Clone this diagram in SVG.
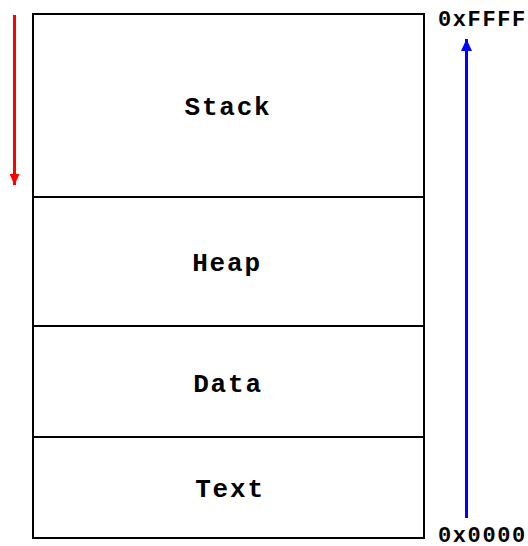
<svg xmlns="http://www.w3.org/2000/svg" width="528" height="546" viewBox="0 0 528 546">
  <style>
    .seg { fill: #fff; stroke: #000; stroke-width: 2; }
    .lbl { font-family: "Liberation Mono", "Courier New", monospace; font-weight: bold; font-size: 26px; letter-spacing: 1.8px; fill: #000; text-anchor: middle; dominant-baseline: central; }
    .addr { font-family: "Liberation Mono", "Courier New", monospace; font-weight: bold; font-size: 22px; letter-spacing: 1.6px; fill: #000; }
  </style>
  <defs>
    <marker id="headRed" viewBox="0 0 11 10" refX="11" refY="5" markerWidth="11" markerHeight="10" markerUnits="userSpaceOnUse" orient="auto">
      <path d="M0,0 L11,5 L0,10 Z" fill="#f00"/>
    </marker>
    <marker id="headBlue" viewBox="0 0 12 11" refX="12" refY="5.5" markerWidth="12" markerHeight="11" markerUnits="userSpaceOnUse" orient="auto">
      <path d="M0,0 L12,5.5 L0,11 Z" fill="#00f"/>
    </marker>
  </defs>

  <!-- memory segments, top to bottom -->
  <g id="stack">
    <rect class="seg" x="33" y="14" width="391" height="183"/>
    <text class="lbl" x="228" y="108">Stack</text>
  </g>
  <g id="heap">
    <rect class="seg" x="33" y="197" width="391" height="129"/>
    <text class="lbl" x="227" y="264">Heap</text>
  </g>
  <g id="data">
    <rect class="seg" x="33" y="326" width="391" height="111"/>
    <text class="lbl" x="228" y="385">Data</text>
  </g>
  <g id="text">
    <rect class="seg" x="33" y="437" width="391" height="101"/>
    <text class="lbl" x="230" y="490">Text</text>
  </g>

  <!-- address bounds -->
  <g id="labels">
    <text class="addr" x="438" y="26">0xFFFF</text>
    <text class="addr" x="438" y="542">0x0000</text>
  </g>

  <g id="connectors">
    <!-- stack growth direction -->
    <line x1="14.5" y1="15" x2="14.5" y2="185" stroke="#f00" stroke-width="3" marker-end="url(#headRed)"/>
    <!-- increasing addresses -->
    <line x1="466.5" y1="518" x2="466.5" y2="39" stroke="#00f" stroke-width="3" marker-end="url(#headBlue)"/>
  </g>
</svg>
